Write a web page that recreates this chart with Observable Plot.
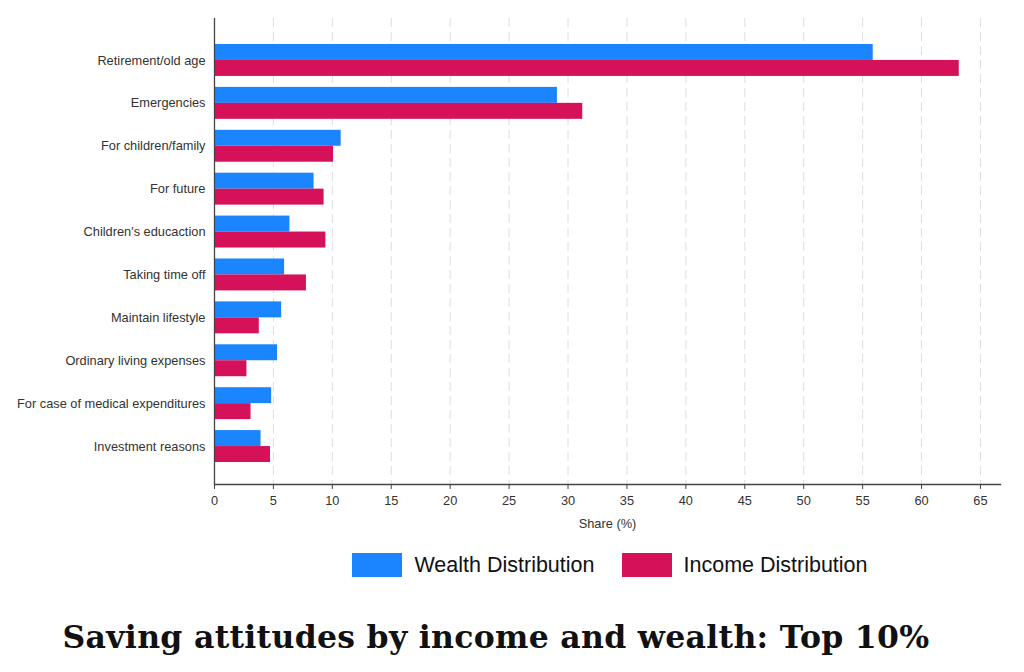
<!DOCTYPE html>
<html>
<head>
<meta charset="utf-8">
<script src="https://cdn.jsdelivr.net/npm/d3@7"></script>
<script src="https://cdn.jsdelivr.net/npm/@observablehq/plot@0.6"></script>
<style>
  html, body { margin: 0; padding: 0; background: #fff; }
  #chart { width: 1024px; }
  .legend { display: flex; justify-content: center; align-items: center; margin-left: 216px; width: 788px; margin-top: 13px; height: 24px;
    font-family: "Liberation Sans", Arial, sans-serif; font-size: 21.5px; color: #111; }
  .legend .item { display: flex; align-items: center; }
  .legend .sw { width: 50px; height: 24px; margin-right: 12px; }
  .legend .item + .item { margin-left: 27px; }
  .title { width: 1024px; text-align: center; margin-top: 41px; padding-right: 32px; box-sizing: border-box;
    font-family: "DejaVu Serif", serif; font-weight: bold; font-size: 31.5px; color: #111; letter-spacing: 0.3px; }
</style>
</head>
<body>
<div id="chart"></div>
<script>
const categories = [
  "Retirement/old age",
  "Emergencies",
  "For children/family",
  "For future",
  "Children's educaction",
  "Taking time off",
  "Maintain lifestyle",
  "Ordinary living expenses",
  "For case of medical expenditures",
  "Investment reasons"
];
const wealthValues = [55.9, 29.1, 10.75, 8.45, 6.4, 5.95, 5.7, 5.35, 4.85, 3.95];
const incomeValues = [63.2, 31.25, 10.1, 9.3, 9.45, 7.8, 3.8, 2.75, 3.1, 4.75];
const seriesNames = ["Wealth Distribution", "Income Distribution"];
const seriesColors = ["#1a85ff", "#d41159"];
const xTicks = [0, 5, 10, 15, 20, 25, 30, 35, 40, 45, 50, 55, 60, 65];

const wealth = categories.map((c, i) => ({category: c, value: wealthValues[i]}));
const income = categories.map((c, i) => ({category: c, value: incomeValues[i]}));

const marginTop = 18, marginBottom = 56, height = 540;
const yInsetTop = 20.5, yInsetBottom = 16.5;
const band = (height - marginTop - marginBottom - yInsetTop - yInsetBottom) / categories.length;
const barH = band * 16 / 43;
const gap = (band - 2 * barH) / 2;

const plot = Plot.plot({
  width: 1024,
  height,
  marginLeft: 214,
  marginRight: 24,
  marginTop,
  marginBottom,
  style: {fontFamily: "'Liberation Sans', Arial, sans-serif", fontSize: "12.8px", color: "#333", background: "#fff"},
  x: {domain: [0, 66.7], ticks: xTicks, label: "Share (%)"},
  y: {type: "band", domain: categories, padding: 0, round: false, insetTop: yInsetTop, insetBottom: yInsetBottom, label: null},
  marks: [
    Plot.gridX(xTicks.filter(d => d > 0), {stroke: "#dedede", strokeOpacity: 1, strokeDasharray: "9,5", strokeWidth: 1}),
    Plot.barX(wealth, {x: "value", y: "category", fill: seriesColors[0], insetTop: gap, insetBottom: gap + barH}),
    Plot.barX(income, {x: "value", y: "category", fill: seriesColors[1], insetTop: gap + barH, insetBottom: gap}),
    Plot.ruleX([0], {stroke: "#444", strokeWidth: 1.3}),
    Plot.frame({anchor: "bottom", stroke: "#444", strokeWidth: 1.3}),
    Plot.axisX({ticks: xTicks, tickSize: 5, tickPadding: 6, stroke: "#444", fill: "#333", label: "Share (%)", labelAnchor: "center", labelArrow: "none", labelOffset: 43}),
    Plot.axisY({tickSize: 0, tickPadding: 9, fill: "#333", label: null})
  ]
});
const root = document.getElementById("chart");
root.appendChild(plot);

const legend = document.createElement("div");
legend.className = "legend";
seriesNames.forEach((name, i) => {
  const item = document.createElement("div");
  item.className = "item";
  const sw = document.createElement("span");
  sw.className = "sw";
  sw.style.background = seriesColors[i];
  const t = document.createElement("span");
  t.textContent = name;
  item.appendChild(sw);
  item.appendChild(t);
  legend.appendChild(item);
});
root.appendChild(legend);

const title = document.createElement("div");
title.className = "title";
title.textContent = "Saving attitudes by income and wealth: Top 10%";
root.appendChild(title);
</script>
</body>
</html>
